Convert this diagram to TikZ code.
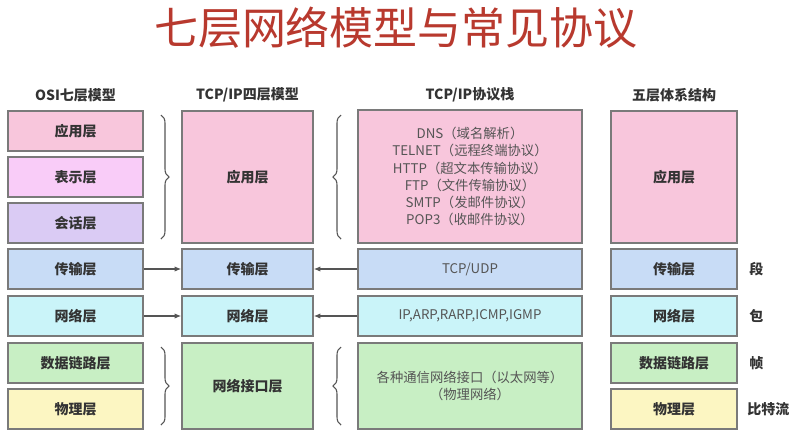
\documentclass[tikz,border=0pt]{standalone}
\usepackage{fontspec}
\setmainfont{Noto Sans CJK SC}
\usetikzlibrary{decorations.pathreplacing,arrows.meta}
\definecolor{cApp}{HTML}{F8C6DC}
\definecolor{cPre}{HTML}{F9CCF8}
\definecolor{cSes}{HTML}{DACBF4}
\definecolor{cTra}{HTML}{C8DCF6}
\definecolor{cNet}{HTML}{CAF4F9}
\definecolor{cDat}{HTML}{C8EFC4}
\definecolor{cPhy}{HTML}{FCF6C2}
\definecolor{cBord}{HTML}{7A7A7A}
\definecolor{cTxt}{HTML}{333333}
\definecolor{cStk}{HTML}{555555}
\definecolor{cTitle}{HTML}{B8392E}
\tikzset{
  layer/.style={draw=cBord, line width=1.1pt, rectangle, inner sep=0pt, text=cTxt, font=\fontsize{10.5}{12}\selectfont\bfseries, align=center},
  stack/.style={layer, text=cStk, font=\fontsize{10}{12.8}\selectfont},
  head/.style={text=cTxt, font=\fontsize{10.5}{12}\selectfont\bfseries},
  unitlbl/.style={text=cTxt, font=\fontsize{10.5}{12}\selectfont\bfseries, anchor=west, inner sep=0pt},
  conn/.style={draw=cStk, line width=0.9pt, -{Latex[length=5pt,width=4pt]}},
  brc/.style={draw=cStk, line width=0.8pt, decorate, decoration={brace, amplitude=6pt}},
}
\begin{document}
\begin{tikzpicture}[x=0.75pt,y=-0.75pt]
\useasboundingbox (0,0) rectangle (794,436);
\fill[white] (0,0) rectangle (794,436);
% title
\node[text=cTitle, font=\fontsize{33}{35}\selectfont] (title) at (396,28) {七层网络模型与常见协议};
% headers
\node[head] (h1) at (75.5,95) {OSI七层模型};
\node[head] (h2) at (247.5,95) {TCP/IP四层模型};
\node[head] (h3) at (470,95) {TCP/IP协议栈};
\node[head] (h4) at (674,95) {五层体系结构};
% column 1: OSI
\node[layer, fill=cApp, minimum width=101.25pt, minimum height=30pt] (o7) at (75.5,131) {应用层};
\node[layer, fill=cPre, minimum width=101.25pt, minimum height=30pt] (o6) at (75.5,177) {表示层};
\node[layer, fill=cSes, minimum width=101.25pt, minimum height=30pt] (o5) at (75.5,223) {会话层};
\node[layer, fill=cTra, minimum width=101.25pt, minimum height=30pt] (o4) at (75.5,269) {传输层};
\node[layer, fill=cNet, minimum width=101.25pt, minimum height=30pt] (o3) at (75.5,316) {网络层};
\node[layer, fill=cDat, minimum width=101.25pt, minimum height=30pt] (o2) at (75.5,363) {数据链路层};
\node[layer, fill=cPhy, minimum width=101.25pt, minimum height=30pt] (o1) at (75.5,409) {物理层};
% column 2: TCP/IP four layers
\node[layer, fill=cApp, minimum width=98.25pt, minimum height=99pt] (t4) at (247.5,177) {应用层};
\node[layer, fill=cTra, minimum width=98.25pt, minimum height=30pt] (t3) at (247.5,269) {传输层};
\node[layer, fill=cNet, minimum width=98.25pt, minimum height=30pt] (t2) at (247.5,316) {网络层};
\node[layer, fill=cDat, minimum width=98.25pt, minimum height=64.5pt] (t1) at (247.5,386) {网络接口层};
% column 3: protocol stack
\node[stack, fill=cApp, minimum width=168pt, minimum height=99.75pt] (s4) at (470,176.5) {DNS（域名解析）\\TELNET（远程终端协议）\\HTTP（超文本传输协议）\\FTP（文件传输协议）\\SMTP（发邮件协议）\\POP3（收邮件协议）};
\node[stack, fill=cTra, minimum width=168pt, minimum height=30pt] (s3) at (470,269) {TCP/UDP};
\node[stack, fill=cNet, minimum width=168pt, minimum height=30pt] (s2) at (470,316) {IP,ARP,RARP,ICMP,IGMP};
\node[stack, fill=cDat, minimum width=168pt, minimum height=64.5pt] (s1) at (470,386) {各种通信网络接口（以太网等）\\（物理网络）};
% column 4: five layers
\node[layer, fill=cApp, minimum width=94.5pt, minimum height=99pt] (f5) at (674,177) {应用层};
\node[layer, fill=cTra, minimum width=94.5pt, minimum height=30pt] (f4) at (674,269) {传输层};
\node[layer, fill=cNet, minimum width=94.5pt, minimum height=30pt] (f3) at (674,316) {网络层};
\node[layer, fill=cDat, minimum width=94.5pt, minimum height=30pt] (f2) at (674,363) {数据链路层};
\node[layer, fill=cPhy, minimum width=94.5pt, minimum height=30pt] (f1) at (674,409) {物理层};
% unit labels
\node[unitlbl] (u4) at (749,269) {段};
\node[unitlbl] (u3) at (749,316) {包};
\node[unitlbl] (u2) at (749,363) {帧};
\node[unitlbl] (u1) at (747,409) {比特流};
% braces
\coordinate (b1a) at (161,115); \coordinate (b1b) at (161,239);
\coordinate (b2a) at (161,347); \coordinate (b2b) at (161,425);
\coordinate (b3a) at (341,115); \coordinate (b3b) at (341,239);
\coordinate (b4a) at (341,347); \coordinate (b4b) at (341,425);
\draw[brc] (b1a) -- (b1b);
\draw[brc] (b2a) -- (b2b);
\draw[brc] (b3b) -- (b3a);
\draw[brc] (b4b) -- (b4a);
% arrows
\draw[conn] (o4) -- (t3);
\draw[conn] (o3) -- (t2);
\draw[conn] (s3) -- (t3);
\draw[conn] (s2) -- (t2);
\end{tikzpicture}
\end{document}
